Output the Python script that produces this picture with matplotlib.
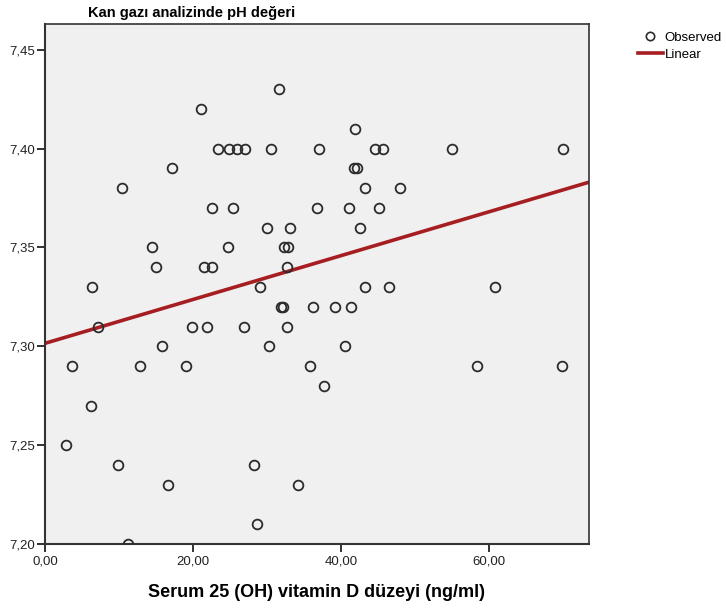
import matplotlib
matplotlib.use("Agg")
import matplotlib.pyplot as plt
from matplotlib.ticker import FuncFormatter
from matplotlib.lines import Line2D

plt.rcParams['font.family'] = ['Liberation Sans', 'DejaVu Sans']

# observed points: vitamin D (x) and pH (y)
vit_d = [31.6, 21.1, 41.9,
         23.4, 24.8, 25.9, 27.0, 30.6, 37.0, 44.6, 45.7, 55.0, 70.0,
         17.2, 41.8, 42.2,
         10.4, 43.3, 48.0,
         22.6, 25.4, 36.7, 41.1, 45.1,
         30.0, 33.1, 42.5,
         14.5, 24.7, 32.3, 32.8,
         15.0, 21.5, 22.6, 32.7,
         6.4, 29.0, 43.2, 46.5, 60.8,
         31.9, 32.2, 36.2, 39.2, 41.4,
         7.1, 19.9, 21.9, 26.9, 32.7,
         15.8, 30.2, 40.5,
         3.6, 12.8, 19.0, 35.8, 58.4, 69.8,
         37.7, 6.2, 2.9, 9.8, 28.3, 16.6, 34.2, 28.6, 11.2]
ph = [7.43, 7.42, 7.41,
      7.40, 7.40, 7.40, 7.40, 7.40, 7.40, 7.40, 7.40, 7.40, 7.40,
      7.39, 7.39, 7.39,
      7.38, 7.38, 7.38,
      7.37, 7.37, 7.37, 7.37, 7.37,
      7.36, 7.36, 7.36,
      7.35, 7.35, 7.35, 7.35,
      7.34, 7.34, 7.34, 7.34,
      7.33, 7.33, 7.33, 7.33, 7.33,
      7.32, 7.32, 7.32, 7.32, 7.32,
      7.31, 7.31, 7.31, 7.31, 7.31,
      7.30, 7.30, 7.30,
      7.29, 7.29, 7.29, 7.29, 7.29, 7.29,
      7.28, 7.27, 7.25, 7.24, 7.24, 7.23, 7.23, 7.21, 7.20]

# linear fit line
fit_x = [0.0, 73.5]
fit_y = [7.3015, 7.3830]

x_ticks = [0, 20, 40, 60]
y_ticks = [7.20, 7.25, 7.30, 7.35, 7.40, 7.45]

fig = plt.figure(figsize=(7.26, 6.10), dpi=100)
ax = fig.add_axes([45/726, 1-544/610, (589-45)/726, (544-24)/610])
ax.set_facecolor('#F0F0F0')

ax.plot(fit_x, fit_y, color='#A61E22', lw=2.6, zorder=2)
ax.plot(vit_d, ph, 'o', ms=7, mfc='none', mec='#2b2b2b', mew=1.3, zorder=3)

ax.set_xlim(0, 73.5)
ax.set_ylim(7.20, 7.463)
ax.set_xticks(x_ticks)
ax.set_yticks(y_ticks)
comma2 = FuncFormatter(lambda v, p: f"{v:.2f}".replace('.', ','))
ax.xaxis.set_major_formatter(comma2)
ax.yaxis.set_major_formatter(comma2)
ax.tick_params(direction='out', length=6, width=1.3, labelsize=9.5, colors='#222222', pad=1)
ax.tick_params(axis='x', pad=2)
for s in ax.spines.values():
    s.set_color('#333333')
    s.set_linewidth(1.2)
ax.spines['left'].set_linewidth(1.5)
ax.spines['bottom'].set_linewidth(1.5)

fig.text(88/726, 1-13/610, 'Kan gazı analizinde pH değeri', fontsize=10.5,
         fontweight='bold', va='center', ha='left')
ax.set_xlabel('Serum 25 (OH) vitamin D düzeyi (ng/ml)', fontsize=13,
              fontweight='bold', labelpad=12)

handles = [Line2D([], [], ls='none', marker='o', ms=6, mfc='none', mec='#2b2b2b', mew=1.2),
           Line2D([], [], color='#A61E22', lw=2.6)]
fig.legend(handles, ['Observed', 'Linear'], loc='upper left',
           bbox_to_anchor=(631/726, 1-25/610), frameon=False, fontsize=9.5,
           handlelength=1.9, handletextpad=0.15, labelspacing=0.35, borderpad=0)

fig.savefig('out.png', dpi=100)
